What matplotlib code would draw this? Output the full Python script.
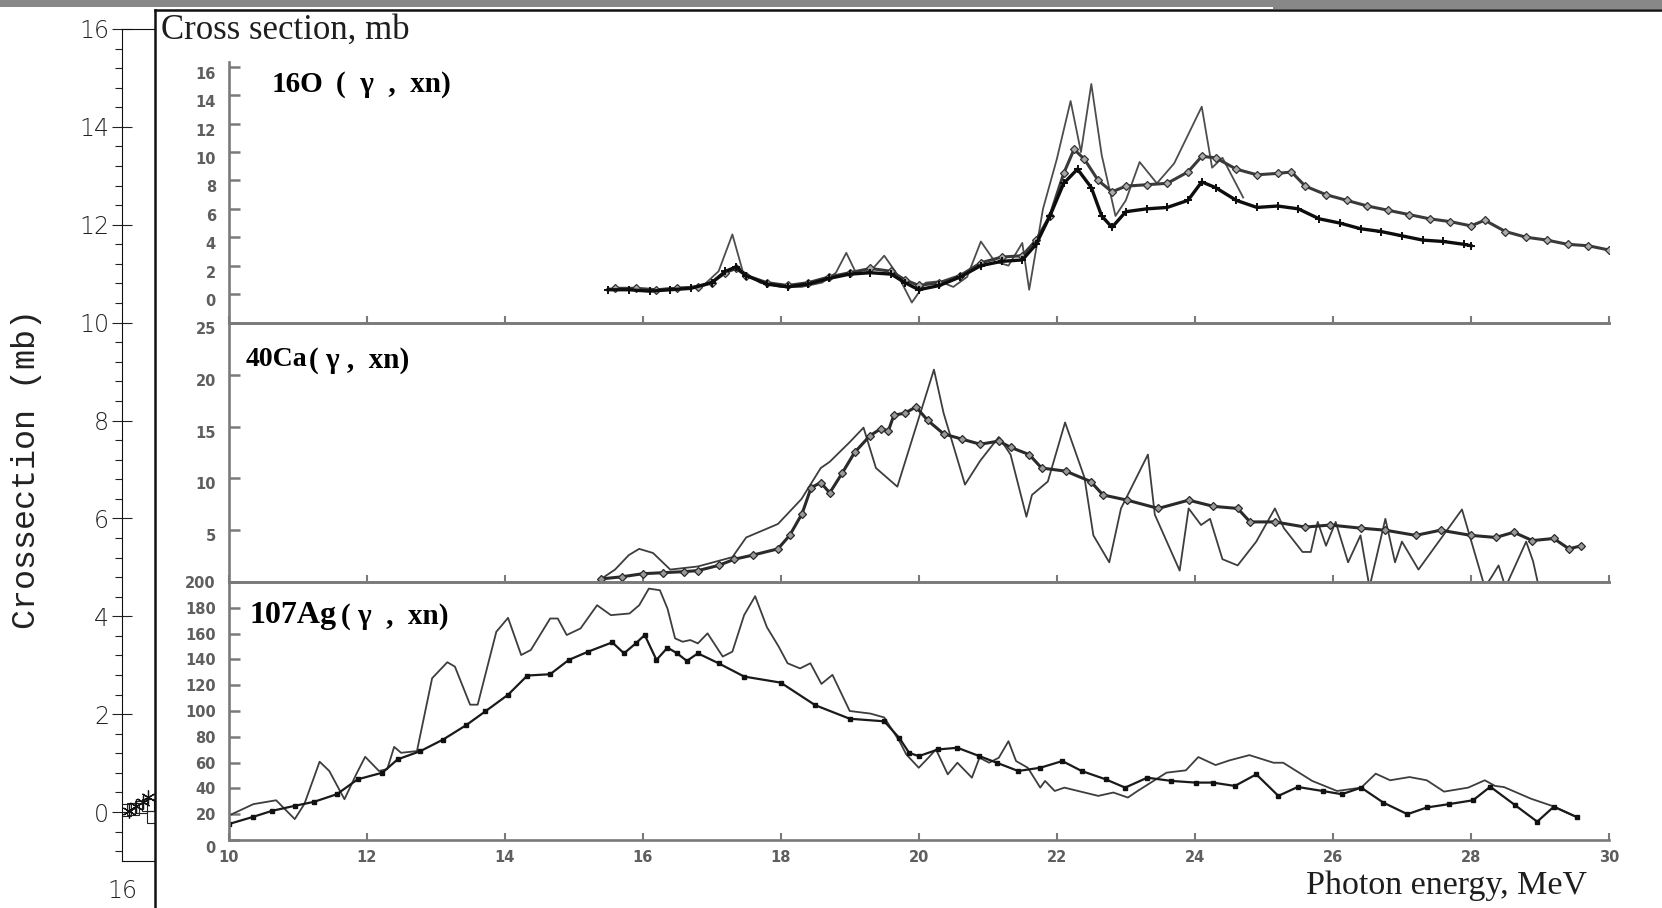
import numpy as np
import matplotlib
matplotlib.use("Agg")
import matplotlib.pyplot as plt
import matplotlib.transforms as mtransforms
from matplotlib.patches import Rectangle

# ---------------- data ----------------
# 16O (gamma, xn)  [mb]
o16_thin_E = [15.5, 15.8, 16.1, 16.4, 16.7, 16.9, 17.1, 17.3, 17.45, 17.7, 18.0, 18.3, 18.6, 18.8, 18.95,
              19.1, 19.3, 19.5, 19.7, 19.9, 20.1, 20.3, 20.5, 20.7, 20.9, 21.1, 21.3, 21.5, 21.6, 21.8,
              22.0, 22.2, 22.35, 22.5, 22.65, 22.85, 23.0, 23.2, 23.45, 23.7, 24.1, 24.25, 24.4, 24.7]
o16_thin_v = [0.4, 0.3, 0.3, 0.4, 0.5, 0.7, 1.6, 4.2, 1.6, 0.8, 0.5, 0.5, 0.8, 1.5, 2.9,
              1.4, 1.6, 2.7, 1.3, -0.6, 0.8, 0.9, 0.5, 1.2, 3.7, 2.3, 2.0, 3.6, 0.3, 6.0,
              9.5, 13.6, 10.0, 14.8, 9.8, 5.5, 6.6, 9.3, 7.8, 9.2, 13.2, 8.9, 9.6, 6.8]

o16_up_E = [15.6, 15.9, 16.2, 16.5, 16.8, 17.0, 17.2, 17.35, 17.5, 17.8, 18.1, 18.4, 18.7, 19.0, 19.3,
            19.6, 19.8, 20.0, 20.3, 20.6, 20.9, 21.2, 21.5, 21.7, 21.9, 22.1, 22.25, 22.4, 22.6, 22.8,
            23.0, 23.3, 23.6, 23.9, 24.1, 24.3, 24.6, 24.9, 25.2, 25.4, 25.6, 25.9, 26.2, 26.5, 26.8,
            27.1, 27.4, 27.7, 28.0, 28.2, 28.5, 28.8, 29.1, 29.4, 29.7, 30.0]
o16_up_v = [0.4, 0.4, 0.3, 0.4, 0.5, 0.8, 1.5, 1.8, 1.3, 0.8, 0.6, 0.8, 1.2, 1.5, 1.8,
            1.6, 1.0, 0.6, 0.8, 1.3, 2.2, 2.6, 2.7, 3.8, 5.5, 8.5, 10.2, 9.5, 8.0, 7.2,
            7.6, 7.7, 7.8, 8.6, 9.7, 9.6, 8.8, 8.4, 8.5, 8.6, 7.6, 7.0, 6.6, 6.2, 5.9,
            5.6, 5.3, 5.1, 4.8, 5.2, 4.4, 4.0, 3.8, 3.5, 3.4, 3.1]

o16_low_E = [15.5, 15.8, 16.1, 16.4, 16.7, 17.0, 17.2, 17.35, 17.5, 17.8, 18.1, 18.4, 18.7, 19.0, 19.3,
             19.6, 19.8, 20.0, 20.3, 20.6, 20.9, 21.2, 21.5, 21.7, 21.9, 22.1, 22.3, 22.5, 22.65, 22.8,
             23.0, 23.3, 23.6, 23.9, 24.1, 24.3, 24.6, 24.9, 25.2, 25.5, 25.8, 26.1, 26.4, 26.7, 27.0,
             27.3, 27.6, 27.9, 28.0]
o16_low_v = [0.3, 0.3, 0.2, 0.3, 0.4, 0.8, 1.6, 1.9, 1.3, 0.7, 0.5, 0.7, 1.1, 1.4, 1.5,
             1.4, 0.8, 0.3, 0.6, 1.2, 2.0, 2.3, 2.4, 3.5, 5.5, 7.8, 8.8, 7.5, 5.5, 4.7,
             5.8, 6.0, 6.1, 6.6, 7.9, 7.5, 6.6, 6.1, 6.2, 6.0, 5.3, 5.0, 4.6, 4.4, 4.1,
             3.8, 3.7, 3.5, 3.4]

# 40Ca (gamma, xn)  [mb]
ca_thin_E = [15.4, 15.6, 15.8, 15.95, 16.15, 16.4, 16.8, 17.3, 17.5, 17.96, 18.3, 18.58, 18.71, 19.0,
             19.2, 19.38, 19.69, 20.22, 20.36, 20.67, 20.89, 21.16, 21.33, 21.56, 21.64, 21.87, 22.12,
             22.4, 22.53, 22.76, 22.93, 23.32, 23.42, 23.78, 23.91, 24.09, 24.22, 24.4, 24.62, 24.89,
             25.16, 25.29, 25.56, 25.68, 25.78, 25.9, 26.04, 26.22, 26.4, 26.53, 26.76, 26.9, 27.0,
             27.24, 27.87, 28.2, 28.3, 28.4, 28.5, 28.8, 28.9, 29.0]
ca_thin_v = [0.3, 1.2, 2.6, 3.2, 2.8, 1.2, 1.5, 2.4, 4.3, 5.6, 8.0, 11.0, 11.6, 13.5,
             14.9, 11.0, 9.2, 20.5, 16.3, 9.4, 11.7, 14.0, 12.3, 6.3, 8.4, 9.7, 15.4,
             10.1, 4.5, 1.9, 7.1, 12.3, 6.5, 1.1, 7.1, 5.5, 6.1, 2.2, 1.6, 3.9,
             7.1, 5.2, 2.9, 2.9, 5.8, 3.5, 5.8, 1.9, 4.5, -0.5, 6.1, 1.9, 3.9,
             1.2, 7.0, -0.5, 0.5, 1.6, -0.5, 3.9, 2.0, -1.0]

ca_dia_E = [15.4, 15.7, 16.0, 16.3, 16.6, 16.8, 17.1, 17.33, 17.6, 17.96, 18.13, 18.31, 18.44, 18.58,
            18.71, 18.89, 19.07, 19.29, 19.45, 19.56, 19.64, 19.8, 19.96, 20.13, 20.36, 20.62, 20.89,
            21.16, 21.33, 21.6, 21.78, 22.13, 22.49, 22.67, 23.02, 23.47, 23.91, 24.27, 24.62, 24.8,
            25.16, 25.6, 25.96, 26.4, 26.76, 27.2, 27.56, 28.0, 28.36, 28.62, 28.89, 29.2, 29.42, 29.6]
ca_dia_v = [0.3, 0.5, 0.8, 0.9, 1.0, 1.1, 1.6, 2.2, 2.6, 3.2, 4.5, 6.6, 9.1, 9.6,
            8.6, 10.5, 12.5, 14.1, 14.8, 14.6, 16.1, 16.3, 16.9, 15.6, 14.3, 13.8, 13.3,
            13.6, 13.0, 12.3, 11.0, 10.7, 9.7, 8.4, 7.9, 7.1, 7.9, 7.3, 7.1, 5.8,
            5.8, 5.3, 5.5, 5.2, 5.0, 4.5, 5.0, 4.5, 4.3, 4.8, 4.0, 4.2, 3.2, 3.5]

# 107Ag (gamma, xn)  [mb]
ag_thin_E = [10.0, 10.36, 10.69, 10.96, 11.1, 11.32, 11.46, 11.68, 11.85, 11.98, 12.18, 12.3, 12.4, 12.5,
             12.73, 12.95, 13.17, 13.28, 13.5, 13.61, 13.88, 14.05, 14.24, 14.38, 14.66, 14.77, 14.9,
             15.1, 15.34, 15.54, 15.81, 15.95, 16.09, 16.25, 16.36, 16.47, 16.58, 16.69, 16.8, 16.94,
             17.16, 17.3, 17.47, 17.63, 17.8, 17.97, 18.1, 18.28, 18.43, 18.59, 18.75, 19.0, 19.3,
             19.5, 19.72, 19.82, 20.0, 20.14, 20.25, 20.42, 20.56, 20.77, 20.88, 21.02, 21.16, 21.3,
             21.41, 21.58, 21.76, 21.83, 21.97, 22.11, 22.6, 22.82, 23.03, 23.17, 23.59, 23.87, 24.05,
             24.3, 24.5, 24.79, 25.14, 25.28, 25.7, 26.06, 26.41, 26.62, 26.83, 27.11, 27.36, 27.61,
             27.96, 28.2, 28.35, 28.48, 28.87, 29.2, 29.54]
ag_thin_v = [18.8, 27.8, 30.8, 16.2, 28, 60.7, 53.5, 31.6, 50.9, 64.5, 53.5, 55, 72.2, 67.6,
             68.9, 125.4, 137.8, 134.4, 104.9, 104.9, 161.4, 172.2, 143.4, 147.3, 171.7, 171.7, 158.9,
             164.0, 182.0, 174.3, 175.6, 182.0, 194.9, 193.6, 179.4, 156.3, 153.7, 155.0, 152.4, 160.2,
             142.2, 146.0, 174.3, 189, 165, 150, 137, 133, 137, 121, 128, 100, 98,
             95, 76.6, 66.3, 56, 63.8, 70.2, 50.9, 59.9, 48.3, 63.8, 59.9, 63.8, 76.6,
             61.2, 56, 40.6, 45.8, 38, 40.6, 34.2, 36.8, 32.9, 38, 52.2, 54, 64.3,
             58.1, 61.7, 65.8, 59.9, 59.9, 45.8, 38, 40.6, 51.4, 46.3, 48.8, 46.3, 37.5,
             40.6, 46.3, 41.9, 41, 32, 26, 17.6]

ag_dot_E = [10.0, 10.36, 10.63, 10.96, 11.24, 11.57, 11.87, 12.23, 12.45, 12.78, 13.11, 13.44, 13.72,
            14.05, 14.33, 14.66, 14.93, 15.21, 15.56, 15.73, 15.9, 16.03, 16.2, 16.36, 16.5, 16.64,
            16.8, 17.1, 17.47, 18.0, 18.5, 19.0, 19.5, 19.72, 19.86, 20.0, 20.28, 20.56, 20.88, 21.13,
            21.44, 21.76, 22.08, 22.36, 22.71, 22.99, 23.31, 23.66, 24.01, 24.26, 24.58, 24.89, 25.21,
            25.49, 25.85, 26.13, 26.41, 26.73, 27.08, 27.36, 27.68, 28.03, 28.28, 28.64, 28.96, 29.2,
            29.54]
ag_dot_v = [12.3, 18, 22.6, 26.5, 29.6, 35.5, 47, 52.2, 62.5, 68.9, 77.9, 88.9, 99.7,
            112.6, 127.5, 128.5, 139.6, 146, 153.2, 144.7, 152.4, 158.9, 139.6, 149.1, 144.7, 138.8,
            144.7, 137, 126.7, 122, 104.5, 94, 92, 79, 67.6, 65, 70.2, 71.5, 65, 59.9,
            53.5, 56, 61.2, 53.5, 47, 40.6, 48.3, 45.8, 44.5, 44.5, 41.9, 50.9, 34.2,
            41.1, 38, 35.5, 40.6, 29, 20, 25.2, 27.8, 30.8, 41.3, 27, 14.2, 25.8,
            17.6]

# outer (host) axis markers near zero
outer_sq_x = [16.03, 16.10, 16.17, 16.24, 16.28]
outer_sq_y = [0.05, 0.06, 0.10, 0.14, -0.10]
outer_ast_x = [16.06, 16.13, 16.19, 16.24]
outer_ast_y = [0.02, 0.12, 0.20, 0.30]

outer_yticks = list(range(0, 17, 2))
panel_xticks = list(range(10, 31, 2))
o16_yticks = list(range(0, 17, 2))
ca_yticks = [5, 10, 15, 20, 25]
ag_yticks = list(range(0, 201, 20))

# ---------------- figure ----------------
W, H = 1662, 908
fig = plt.figure(figsize=(W / 100, H / 100), dpi=100)
fig.patch.set_facecolor("white")


def fr(x0, y0, x1, y1):
    return [x0 / W, 1 - y1 / H, (x1 - x0) / W, (y1 - y0) / H]


# host axes (left scale)
ax0 = fig.add_axes(fr(122, 29, 1650, 861))
ax0.set_zorder(0)
ax0.set_xlim(16, 30)
ax0.set_ylim(-1, 16)
ax0.set_yticks(outer_yticks)
ax0.set_yticks(np.arange(-0.8, 16.0, 0.4), minor=True)
ax0.set_xticks([16])
ax0.tick_params(axis="y", which="major", direction="inout", length=14.5, width=0.8,
                labelsize=17, pad=2, colors="#222")
ax0.tick_params(axis="y", which="minor", direction="out", length=5, width=0.8, color="#222")
ax0.tick_params(axis="x", which="both", length=0, pad=13, labelsize=17, colors="#222")
for lab in ax0.get_yticklabels() + ax0.get_xticklabels():
    lab.set_fontweight("light")
for s in ax0.spines.values():
    s.set_linewidth(0.8)
    s.set_color("#111")
ax0.plot(outer_sq_x, outer_sq_y, ls="none", marker="s", ms=8, mfc="none", mec="#222", mew=0.8)
ax0.plot(outer_ast_x, outer_ast_y, ls="none", marker=(6, 2, 0), ms=10, mec="#111", mew=0.9)
fig.text(27 / W, 1 - 469 / H, "Crossection (mb)", rotation=90, ha="center", va="center",
         family="Liberation Mono", fontsize=24, color="#222")

# white box (inserted picture frame)
axb = fig.add_axes(fr(155, 10, 1720, 930))
axb.set_zorder(2)
axb.set_facecolor("white")
axb.set_xticks([])
axb.set_yticks([])
for k in ("right", "bottom"):
    axb.spines[k].set_visible(False)
for k in ("left", "top"):
    axb.spines[k].set_linewidth(1.8)
    axb.spines[k].set_color("#111")

GRAY = "#7a7a7a"
X0, X1 = 228.5, 1609


def panel(y_top, y_bot, ylim, yticks, label_dy):
    ax = fig.add_axes(fr(X0, y_top, X1, y_bot))
    ax.set_zorder(3)
    ax.patch.set_alpha(0)
    ax.set_xlim(10, 30)
    ax.set_ylim(*ylim)
    ax.set_yticks(yticks)
    ax.set_xticks(panel_xticks)
    ax.spines["right"].set_visible(False)
    for k in ("left", "bottom", "top"):
        ax.spines[k].set_linewidth(1.9)
        ax.spines[k].set_color(GRAY)
    ax.tick_params(axis="y", direction="in", length=8, width=1.8, color=GRAY,
                   labelsize=10.5, labelcolor="#5e5e5e", pad=9)
    ax.tick_params(axis="x", direction="in", length=5, width=1.5, color=GRAY,
                   labelbottom=False)
    for lab in ax.get_yticklabels():
        lab.set_fontweight("bold")
        lab.set_transform(lab.get_transform() +
                          mtransforms.ScaledTranslation(0, -label_dy / 100, fig.dpi_scale_trans))
    return ax


axO = panel(62, 323, (-(323 - 294) / 14.19, (294 - 62) / 14.19), o16_yticks, 6)
axO.spines["top"].set_visible(False)
axC = panel(323, 582, (0, 25), ca_yticks, 5)
axA = panel(582, 840, (0, 200), ag_yticks, 0)
axA.tick_params(axis="x", labelbottom=True, labelsize=10.5, labelcolor="#5e5e5e", pad=7)
for lab in axA.get_xticklabels():
    lab.set_fontweight("bold")
axA.get_yticklabels()[0].set_transform(
    axA.get_yticklabels()[0].get_transform() +
    mtransforms.ScaledTranslation(0, -7 / 100, fig.dpi_scale_trans))

# curves
axO.plot(o16_thin_E, o16_thin_v, color="#4d4d4d", lw=1.3)
axO.plot(o16_up_E, o16_up_v, color="#3a3a3a", lw=2.2, marker="D", ms=3.8, mfc="#aaa", mec="#333", mew=0.9)
axO.plot(o16_low_E, o16_low_v, color="#0d0d0d", lw=2.4, marker="+", ms=5.5, mec="#0d0d0d", mew=1.4)

axC.plot(ca_thin_E, ca_thin_v, color="#3d3d3d", lw=1.3)
axC.plot(ca_dia_E, ca_dia_v, color="#2a2a2a", lw=2.2, marker="D", ms=3.8, mfc="#999", mec="#2a2a2a", mew=0.9)

axA.plot(ag_thin_E, ag_thin_v, color="#3d3d3d", lw=1.3)
axA.plot(ag_dot_E, ag_dot_v, color="#1a1a1a", lw=1.6, marker="s", ms=3.0, mfc="#111", mec="#111")

# texts
serif = "Liberation Serif"
fig.text(161 / W, 1 - 30 / H, "Cross section, mb", family=serif, fontsize=25, color="#1e1e1e",
         ha="left", va="center", zorder=10)
fig.text(1587 / W, 1 - 886 / H, "Photon energy, MeV", family=serif, fontsize=24.5, color="#1e1e1e",
         ha="right", va="center", zorder=10)
fig.text(272 / W, 1 - 85 / H, "16O", family=serif, fontsize=21, fontweight="bold",
         ha="left", va="center", zorder=10)
fig.text(336 / W, 1 - 85 / H, "(  γ  ,  xn)", family=serif, fontsize=21, fontweight="bold",
         ha="left", va="center", zorder=10)
fig.text(246 / W, 1 - 360 / H, "40Ca", family=serif, fontsize=20, fontweight="bold",
         ha="left", va="center", zorder=10)
fig.text(309 / W, 1 - 360 / H, "( γ ,  xn)", family=serif, fontsize=21, fontweight="bold",
         ha="left", va="center", zorder=10)
fig.text(249 / W, 1 - 615 / H, "107Ag", family=serif, fontsize=23, fontweight="bold",
         ha="left", va="center", zorder=10)
fig.text(341 / W, 1 - 617 / H, "( γ  ,  xn)", family=serif, fontsize=21, fontweight="bold",
         ha="left", va="center", zorder=10)

# top grey band
fig.patches.append(Rectangle((0, 1 - 7 / H), 1, 7 / H, transform=fig.transFigure,
                             facecolor="#888", edgecolor="none", zorder=20))
fig.patches.append(Rectangle((1273 / W, 1 - 9 / H), 1, 3 / H, transform=fig.transFigure,
                             facecolor="#888", edgecolor="none", zorder=20))

fig.savefig("out.png", dpi=100, facecolor="white")
